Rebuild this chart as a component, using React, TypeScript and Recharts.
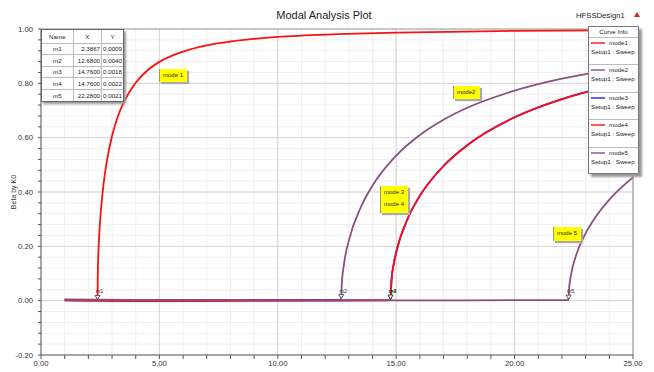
import React from 'react'
import { LineChart, Line, XAxis, YAxis, CartesianGrid, ReferenceLine, ReferenceDot } from 'recharts'

const mode1X = [1, 1.5, 2, 2.3867, 2.4, 2.45, 2.5, 2.6, 2.7, 2.8, 3, 3.25, 3.5, 4, 4.5, 5, 6, 7, 8, 10, 12.5, 15, 20, 25]
const mode1Y = [0.004, 0.002, 0.001, 0.0009, 0.105, 0.226, 0.298, 0.397, 0.468, 0.523, 0.606, 0.679, 0.731, 0.802, 0.848, 0.879, 0.917, 0.94, 0.954, 0.971, 0.981, 0.987, 0.993, 0.995]

const mode2X = [1, 4, 8, 12.68, 12.7, 12.8, 13, 13.5, 14, 15, 16, 17, 18, 20, 22, 24, 25]
const mode2Y = [0.005, 0.003, 0.002, 0.004, 0.056, 0.137, 0.221, 0.343, 0.424, 0.534, 0.61, 0.666, 0.71, 0.773, 0.817, 0.849, 0.862]

const mode3X = [1, 6, 10, 14.76, 14.8, 14.9, 15, 15.5, 16, 17, 18, 20, 22, 24, 25]
const mode3Y = [0.001, 0.001, 0.001, 0.0018, 0.0735, 0.137, 0.178, 0.305, 0.386, 0.496, 0.572, 0.675, 0.742, 0.789, 0.807]

const mode4X = [1, 4, 6.5, 14.3, 14.76, 14.8, 14.9, 15, 15.5, 16, 17, 18, 20, 22, 24, 25]
const mode4Y = [0.001, -0.002, -0.002, 0.001, 0.0022, 0.0735, 0.137, 0.178, 0.305, 0.386, 0.496, 0.572, 0.675, 0.742, 0.789, 0.807]

const mode5X = [1, 8, 16, 21, 22.28, 22.3, 22.4, 22.6, 23, 23.5, 24, 24.5, 25]
const mode5Y = [0.003, 0.002, 0.001, 0.002, 0.0021, 0.042, 0.103, 0.168, 0.248, 0.318, 0.372, 0.416, 0.454]

const curveNames = ['mode1', 'mode2', 'mode3', 'mode4', 'mode5']
const curveColors = ['#ff1010', '#8b4f7f', '#1a1aff', '#ff1010', '#8b4f7f']

const markerNames = ['m1', 'm2', 'm3', 'm4', 'm5']
const markerX = [2.3867, 12.68, 14.76, 14.76, 22.28]
const markerY = [0.0009, 0.004, 0.0018, 0.0022, 0.0021]
const markerXText = ['2.3867', '12.6800', '14.7600', '14.7600', '22.2800']
const markerYText = ['0.0009', '0.0040', '0.0018', '0.0022', '0.0021']

const xTicks = [0, 1, 2, 3, 4, 5, 6, 7, 8, 9, 10, 11, 12, 13, 14, 15, 16, 17, 18, 19, 20, 21, 22, 23, 24, 25]
const yTicks = [-0.2, -0.16, -0.12, -0.08, -0.04, 0, 0.04, 0.08, 0.12, 0.16, 0.2, 0.24, 0.28, 0.32, 0.36, 0.4, 0.44, 0.48, 0.52, 0.56, 0.6, 0.64, 0.68, 0.72, 0.76, 0.8, 0.84, 0.88, 0.92, 0.96, 1]
const xMajor = [5, 10, 15, 20]
const yMajor = [0, 0.2, 0.4, 0.6, 0.8]

const xs = [mode1X, mode2X, mode3X, mode4X, mode5X]
const ys = [mode1Y, mode2Y, mode3Y, mode4Y, mode5Y]
const series = xs.map((xa, s) => xa.map((x, i) => ({ x, y: ys[s][i] })))

const font = '"Liberation Sans", Arial, sans-serif'

const tags = [
  { lines: ['mode 1'], left: 159, top: 69, w: 27, h: 13 },
  { lines: ['mode2'], left: 453, top: 86, w: 26, h: 13 },
  { lines: ['mode 3', 'mode 4'], left: 380, top: 186, w: 27, h: 27 },
  { lines: ['mode 5'], left: 553, top: 227, w: 27, h: 14 },
]

function Marker(props: any) {
  const { cx, cy, name } = props
  return (
    <g>
      <text x={cx + 2} y={cy - 7} fontSize={5.5} fill="#333" textAnchor="middle" fontFamily={font}>{name}</text>
      <path d={`M${cx - 2.5},${cy - 5} L${cx + 2.5},${cy - 5} L${cx},${cy - 1} Z`} fill="#fff" stroke="#333" strokeWidth={0.8} />
    </g>
  )
}

const fmtX = (v: number) => (v % 5 === 0 ? v.toFixed(2) : '')
const fmtY = (v: number) => (Math.abs(Math.round(v * 5) - v * 5) < 1e-6 ? v.toFixed(2) : '')

export default function App() {
  return (
    <div style={{ position: 'absolute', left: 0, top: 0, width: 654, height: 372, background: '#fff', fontFamily: font }}>
      <LineChart width={654} height={372} margin={{ top: 29, right: 21, bottom: 0, left: 0 }}>
        <CartesianGrid stroke="#efefef" fill="none" />
        <CartesianGrid stroke="#d6d6d6" fill="none" verticalValues={xMajor} horizontalValues={yMajor} />
        <XAxis
          type="number"
          dataKey="x"
          domain={[0, 25]}
          ticks={xTicks}
          interval={0}
          height={17}
          tickSize={4}
          tickFormatter={fmtX}
          tick={{ fontSize: 7.7, fill: '#333', fontFamily: font }}
          axisLine={{ stroke: '#555' }}
          tickLine={{ stroke: '#555' }}
          allowDataOverflow
        />
        <YAxis
          type="number"
          domain={[-0.2, 1]}
          ticks={yTicks}
          interval={0}
          width={41}
          tickSize={3}
          tickMargin={5}
          tickFormatter={fmtY}
          tick={{ fontSize: 7.7, fill: '#333', fontFamily: font }}
          axisLine={{ stroke: '#555' }}
          tickLine={{ stroke: '#555' }}
          label={{ value: 'Beta by K0', angle: -90, position: 'insideLeft', offset: 14, style: { fontSize: 7, fill: '#333', textAnchor: 'middle', fontFamily: font } }}
          allowDataOverflow
        />
        <ReferenceLine y={1} stroke="#999" />
        <ReferenceLine x={25} stroke="#888" />
        {series.map((d, i) => (
          <Line
            key={curveNames[i]}
            data={d}
            dataKey="y"
            type="monotone"
            stroke={curveColors[i]}
            strokeWidth={1.8}
            dot={false}
            isAnimationActive={false}
          />
        ))}
        {markerNames.map((n, i) => (
          <ReferenceDot key={n} x={markerX[i]} y={markerY[i]} r={0} shape={(p: any) => <Marker {...p} name={n} />} />
        ))}
      </LineChart>

      <div style={{ position: 'absolute', left: 0, width: 654, top: 9, textAlign: 'center', fontSize: 11, color: '#222' }}>
        <span style={{ position: 'relative', left: -3 }}>Modal Analysis Plot</span>
      </div>
      <div style={{ position: 'absolute', left: 576, top: 11, fontSize: 7.7, color: '#222' }}>HFSSDesign1</div>
      <div style={{ position: 'absolute', left: 634, top: 12, width: 0, height: 0, borderLeft: '3px solid transparent', borderRight: '3px solid transparent', borderBottom: '5px solid #d22' }} />

      <div style={{ position: 'absolute', left: 41, top: 29, width: 81, background: '#fff', border: '1px solid #666', boxShadow: '2px 2px 2px #999', fontSize: 6, color: '#222' }}>
        <table style={{ borderCollapse: 'collapse', width: '100%', fontSize: 6.2, fontFamily: font }}>
          <tbody>
            <tr style={{ height: 13 }}>
              <td style={{ width: 31, textAlign: 'center', borderRight: '1px solid #bbb', borderBottom: '1px solid #bbb' }}>Name</td>
              <td style={{ width: 26, textAlign: 'center', borderRight: '1px solid #bbb', borderBottom: '1px solid #bbb' }}>X</td>
              <td style={{ textAlign: 'center', borderBottom: '1px solid #bbb' }}>Y</td>
            </tr>
            {markerNames.map((n, i) => (
              <tr key={n} style={{ height: 11.5 }}>
                <td style={{ textAlign: 'center', borderRight: '1px solid #bbb', borderBottom: i < 4 ? '1px solid #bbb' : 'none', padding: 0 }}>{n}</td>
                <td style={{ textAlign: 'right', paddingRight: 1, borderRight: '1px solid #bbb', borderBottom: i < 4 ? '1px solid #bbb' : 'none' }}>{markerXText[i]}</td>
                <td style={{ textAlign: 'right', paddingRight: 1, borderBottom: i < 4 ? '1px solid #bbb' : 'none' }}>{markerYText[i]}</td>
              </tr>
            ))}
          </tbody>
        </table>
      </div>

      <div style={{ position: 'absolute', left: 588, top: 26, width: 49, height: 146, background: '#fff', border: '1px solid #777', boxShadow: '3px 3px 2px #999', fontSize: 6.2, color: '#222' }}>
        <div style={{ height: 10, lineHeight: '10px', textAlign: 'center', borderBottom: '1px solid #bbb' }}>Curve Info</div>
        {curveNames.map((n, i) => (
          <div key={n} style={{ height: 26.4, borderBottom: i < 4 ? '1px solid #bbb' : 'none', position: 'relative' }}>
            <svg width={16} height={4} style={{ position: 'absolute', left: 2, top: 3 }}>
              <line x1={0} y1={2} x2={14} y2={2} stroke={curveColors[i]} strokeWidth={1.4} />
            </svg>
            <div style={{ position: 'absolute', left: 20, top: 1, lineHeight: '8px' }}>{n}</div>
            <div style={{ position: 'absolute', left: 2, top: 10, lineHeight: '8px', whiteSpace: 'nowrap' }}>Setup1 : Sweep</div>
          </div>
        ))}
      </div>

      {tags.map((t, i) => (
        <div key={i} style={{ position: 'absolute', left: t.left, top: t.top, width: t.w, height: t.h, background: '#ffff00', boxShadow: '2px 2px 1px #aaa', fontSize: 6, color: '#222', borderLeft: '1px solid #996' }}>
          {t.lines.map((l) => (
            <div key={l} style={{ lineHeight: '12px', paddingLeft: 3 }}>{l}</div>
          ))}
        </div>
      ))}
    </div>
  )
}
